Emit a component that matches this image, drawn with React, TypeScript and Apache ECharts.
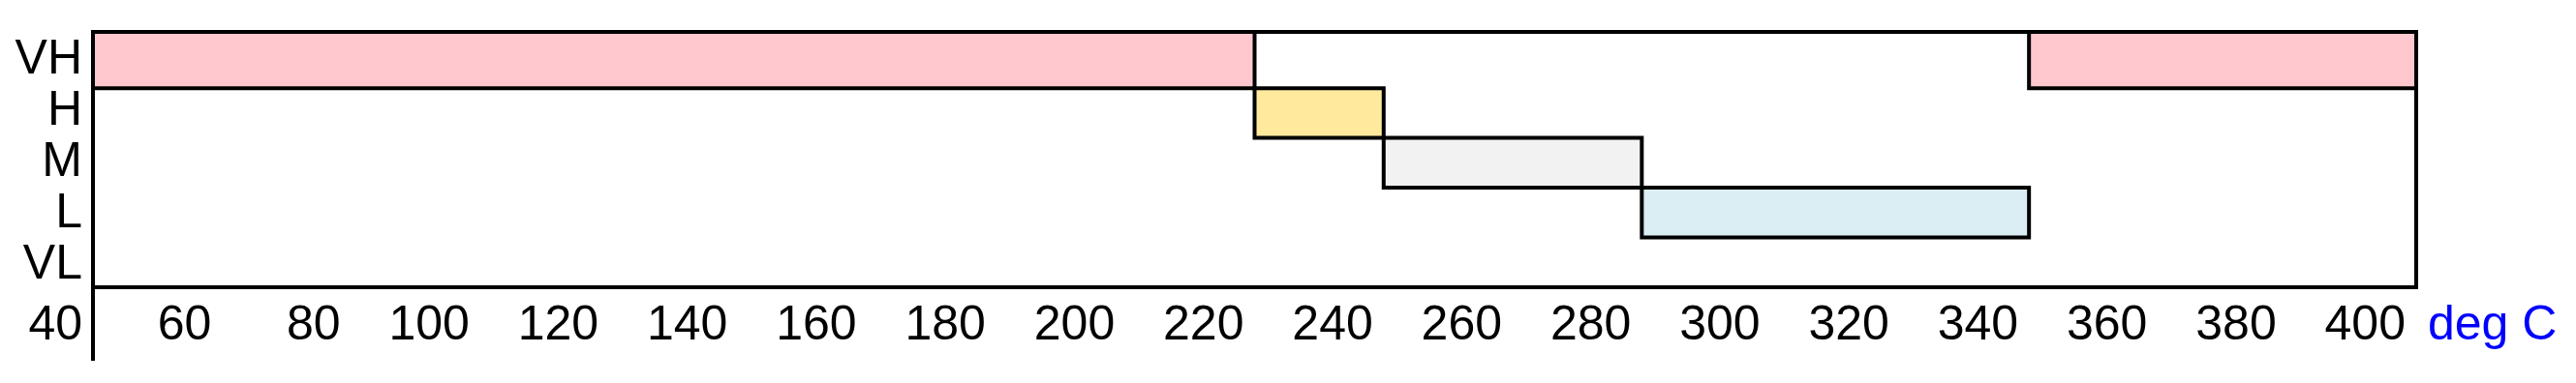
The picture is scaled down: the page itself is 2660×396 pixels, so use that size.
import React, { useEffect, useRef } from "react";
import * as echarts from "echarts";

// Category rows, bottom to top
const LEVELS = ["VL", "L", "M", "H", "VH"];
// Segments: which level, start and end temperature (deg C)
const SEG_LEVEL = ["VH", "H", "M", "L", "VH"];
const SEG_START = [40, 220, 240, 280, 340];
const SEG_END = [220, 240, 280, 340, 400];
const LEVEL_COLORS: Record<string, string> = {
  VH: "#FFC8CE",
  H: "#FFE99D",
  M: "#F2F2F2",
  L: "#DAEEF3",
  VL: "#FFFFFF",
};
const X_MIN = 40;
const X_MAX = 400;
const X_STEP = 20;
const X_UNIT = "deg C";

const FONT = "'Liberation Sans', Arial, sans-serif";
const LW = 4;

export default function App() {
  const ref = useRef<HTMLDivElement>(null);
  useEffect(() => {
    if (!ref.current) return;
    const chart = echarts.init(ref.current, null, { renderer: "svg" });
    const data = SEG_LEVEL.map((lv, i) => [LEVELS.indexOf(lv), SEG_START[i], SEG_END[i]]);
    const gridLeft = 96;
    const gridTop = 33;
    const gridRight = 165;
    const gridHeight = 264;
    chart.setOption({
      animation: false,
      backgroundColor: "#ffffff",
      grid: {
        left: gridLeft,
        right: gridRight,
        top: gridTop,
        height: gridHeight,
        show: true,
        borderColor: "#000",
        borderWidth: LW,
        backgroundColor: "#fff",
      },
      xAxis: {
        type: "value",
        min: X_MIN,
        max: X_MAX,
        interval: X_STEP,
        name: X_UNIT,
        nameLocation: "end",
        nameGap: 12,
        nameTextStyle: {
          color: "#0000ff",
          fontSize: 50,
          fontFamily: FONT,
          align: "left",
          verticalAlign: "top",
          padding: [12, 0, 0, 0],
        },
        axisLine: { show: false },
        axisTick: { show: false },
        splitLine: { show: false },
        axisLabel: {
          show: true,
          showMinLabel: true,
          showMaxLabel: true,
          color: "#000",
          fontSize: 50,
          fontFamily: FONT,
          align: "right",
          margin: 12,
          padding: [0, 11, 0, 0],
        },
      },
      yAxis: [
        {
          type: "category",
          data: LEVELS,
          position: "left",
          axisLine: { show: false },
          axisTick: { show: false },
          splitLine: { show: false },
          axisLabel: {
            interval: 0,
            color: "#000",
            fontSize: 50,
            fontFamily: FONT,
            margin: 11,
            verticalAlign: "middle",
            padding: [0, 0, 12, 0],
          },
        },
        {
          type: "value",
          min: 0,
          max: 5.13,
          show: false,
          splitLine: { show: false },
        },
      ],
      series: [
        {
          type: "custom",
          xAxisIndex: 0,
          yAxisIndex: 1,
          encode: { x: [1, 2], y: 0 },
          data,
          renderItem: (params: any, api: any) => {
            const idx = api.value(0);
            const s = api.value(1);
            const e = api.value(2);
            const p0 = api.coord([s, idx + 1]);
            const p1 = api.coord([e, idx]);
            const cs = params.coordSys;
            let top = p0[1];
            if (idx === LEVELS.length - 1) top = cs.y;
            return {
              type: "rect",
              shape: { x: p0[0], y: top, width: p1[0] - p0[0], height: p1[1] - top },
              style: {
                fill: LEVEL_COLORS[LEVELS[idx]],
                stroke: "#000",
                lineWidth: LW,
              },
            };
          },
        },
      ],
      graphic: [
        {
          type: "line",
          shape: { x1: gridLeft, y1: gridTop, x2: gridLeft, y2: 373 },
          style: { stroke: "#000", lineWidth: LW },
          z: 100,
        },
      ],
    });
    return () => chart.dispose();
  }, []);
  return (
    <div
      ref={ref}
      style={{ position: "fixed", left: 0, top: 0, width: 2660, height: 396, background: "#fff" }}
    />
  );
}
